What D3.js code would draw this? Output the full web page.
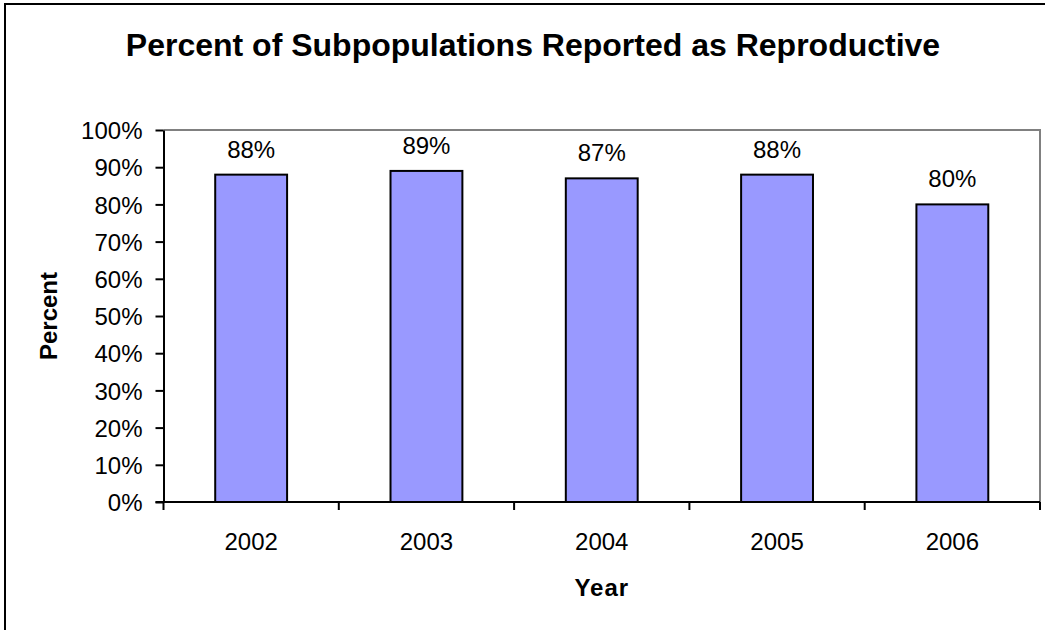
<!DOCTYPE html>
<html>
<head>
<meta charset="utf-8">
<script src="https://cdn.jsdelivr.net/npm/d3@7"></script>
<style>
  body { margin: 0; background: #fff; }
  text { font-family: Arial, "Liberation Sans", sans-serif; fill: #000; }
</style>
</head>
<body>
<div id="chart"></div>
<script>
(() => {
  // chart data
  const years = ["2002", "2003", "2004", "2005", "2006"];
  const percents = [88, 89, 87, 88, 80];
  const yTicks = [0, 10, 20, 30, 40, 50, 60, 70, 80, 90, 100];

  const width = 1045, height = 630;
  const plot = {left: 163.5, right: 1040, top: 130, bottom: 502};

  const svg = d3.select("#chart")
    .append("svg")
    .attr("width", width)
    .attr("height", height);

  // outer chart border (runs off the right and bottom edges)
  svg.append("rect")
    .attr("x", 5).attr("y", 4)
    .attr("width", 1100).attr("height", 700)
    .attr("fill", "none")
    .attr("stroke", "#000")
    .attr("stroke-width", 2);

  const x = d3.scaleBand()
    .domain(years)
    .range([plot.left, plot.right])
    .paddingInner(0.59)
    .paddingOuter(0.295);

  const y = d3.scaleLinear()
    .domain([0, 100])
    .range([plot.bottom, plot.top]);

  // plot area frame: grey top and right
  svg.append("path")
    .attr("d", `M${plot.left},${plot.top}H${plot.right}V${plot.bottom}`)
    .attr("fill", "none")
    .attr("stroke", "#808080")
    .attr("stroke-width", 2);

  // bars
  svg.append("g").selectAll("rect")
    .data(percents)
    .enter().append("rect")
    .attr("x", (d, i) => x(years[i]))
    .attr("y", d => y(d))
    .attr("width", x.bandwidth())
    .attr("height", d => y(0) - y(d))
    .attr("fill", "#9999FF")
    .attr("stroke", "#000")
    .attr("stroke-width", 2);

  // value labels
  svg.append("g").selectAll("text")
    .data(percents)
    .enter().append("text")
    .attr("x", (d, i) => x(years[i]) + x.bandwidth() / 2)
    .attr("y", d => y(d) - 17)
    .attr("text-anchor", "middle")
    .style("font-size", "24px")
    .text(d => d + "%");

  // y axis
  const yAxis = svg.append("g")
    .attr("transform", `translate(${plot.left},0)`)
    .call(d3.axisLeft(y)
      .tickValues(yTicks)
      .tickSize(8)
      .tickSizeOuter(0)
      .tickPadding(13)
      .tickFormat(d => d + "%"));
  yAxis.select(".domain").attr("stroke", "#000").attr("stroke-width", 2);
  yAxis.selectAll(".tick line").attr("stroke", "#000").attr("stroke-width", 2);
  yAxis.selectAll(".tick text")
    .style("font-size", "24px")
    .style("font-family", "Arial, 'Liberation Sans', sans-serif")
    .attr("dy", "0.36em");

  // x axis line
  svg.append("line")
    .attr("x1", plot.left - 8).attr("x2", plot.right)
    .attr("y1", plot.bottom).attr("y2", plot.bottom)
    .attr("stroke", "#000").attr("stroke-width", 2);

  // x ticks at category boundaries
  const step = x.step();
  const bounds = d3.range(years.length + 1).map(i => plot.left + i * step);
  svg.append("g").selectAll("line")
    .data(bounds)
    .enter().append("line")
    .attr("x1", d => d).attr("x2", d => d)
    .attr("y1", plot.bottom).attr("y2", plot.bottom + 8)
    .attr("stroke", "#000").attr("stroke-width", 2);

  // x labels
  svg.append("g").selectAll("text")
    .data(years)
    .enter().append("text")
    .attr("x", d => x(d) + x.bandwidth() / 2)
    .attr("y", 550)
    .attr("text-anchor", "middle")
    .style("font-size", "24px")
    .text(d => d);

  // titles
  svg.append("text")
    .attr("x", 533).attr("y", 56)
    .attr("text-anchor", "middle")
    .style("font-size", "32px")
    .style("font-weight", "bold")
    .text("Percent of Subpopulations Reported as Reproductive");

  svg.append("text")
    .attr("x", (plot.left + plot.right) / 2).attr("y", 596)
    .attr("text-anchor", "middle")
    .style("font-size", "24px")
    .style("font-weight", "bold")
    .style("letter-spacing", "1px")
    .text("Year");

  svg.append("text")
    .attr("transform", `translate(57,${(plot.top + plot.bottom) / 2}) rotate(-90)`)
    .attr("text-anchor", "middle")
    .style("font-size", "24px")
    .style("font-weight", "bold")
    .text("Percent");
})();
</script>
</body>
</html>
